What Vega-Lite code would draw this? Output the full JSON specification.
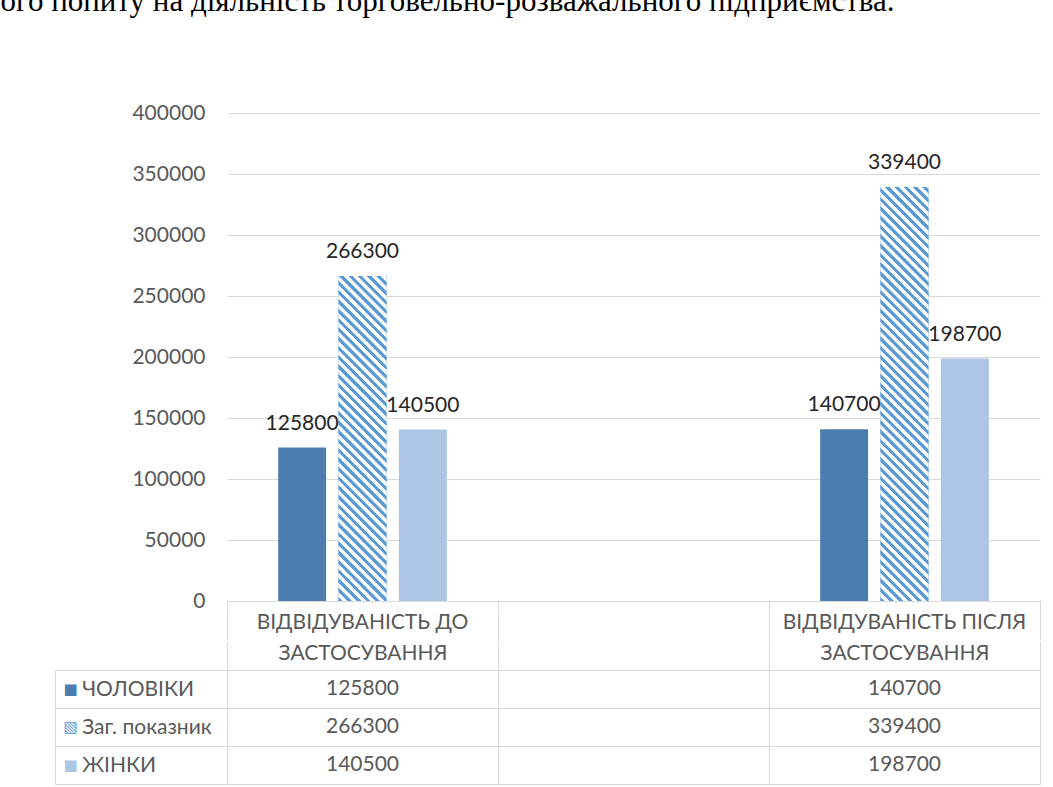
{
  "$schema": "https://vega.github.io/schema/vega-lite/v6.json",
  "background": "white",
  "padding": {"left": 0, "top": -14, "right": 0, "bottom": 0},
  "spacing": 0,
  "title": {"text": "ого попиту на діяльність торговельно-розважального підприємства.", "anchor": "start", "dx": -54, "baseline": "alphabetic", "offset": 60, "font": "Liberation Serif", "fontSize": 31, "fontWeight": "normal", "color": "#000000"},
  "data": {"values": [
    {"cat": "ВІДВІДУВАНІСТЬ ДО ЗАСТОСУВАННЯ", "series": "ЧОЛОВІКИ", "value": 125800},
    {"cat": "ВІДВІДУВАНІСТЬ ДО ЗАСТОСУВАННЯ", "series": "Заг. показник", "value": 266300},
    {"cat": "ВІДВІДУВАНІСТЬ ДО ЗАСТОСУВАННЯ", "series": "ЖІНКИ", "value": 140500},
    {"cat": "ВІДВІДУВАНІСТЬ ПІСЛЯ ЗАСТОСУВАННЯ", "series": "ЧОЛОВІКИ", "value": 140700},
    {"cat": "ВІДВІДУВАНІСТЬ ПІСЛЯ ЗАСТОСУВАННЯ", "series": "Заг. показник", "value": 339400},
    {"cat": "ВІДВІДУВАНІСТЬ ПІСЛЯ ЗАСТОСУВАННЯ", "series": "ЖІНКИ", "value": 198700}
  ]},
  "config": {
    "view": {"stroke": null},
    "font": "Lato",
    "axis": {"labelFont": "Lato", "labelFontSize": 21, "labelColor": "#595959", "gridColor": "#d9d9d9", "domainColor": "#d9d9d9", "tickColor": "#d9d9d9"}
  },
  "vconcat": [
    {
      "width": 813,
      "height": 488,
      "encoding": {
        "x": {"field": "cat", "type": "nominal",
          "scale": {"domain": ["ВІДВІДУВАНІСТЬ ДО ЗАСТОСУВАННЯ", " ", "ВІДВІДУВАНІСТЬ ПІСЛЯ ЗАСТОСУВАННЯ"], "paddingInner": 0, "paddingOuter": 0},
          "axis": {"title": null, "domain": true, "ticks": true, "tickBand": "extent", "tickSize": 10, "labels": false}},
        "xOffset": {"field": "series", "type": "nominal",
          "scale": {"domain": ["ЧОЛОВІКИ", "Заг. показник", "ЖІНКИ"], "paddingInner": 0.2066, "paddingOuter": 0.847}},
        "y": {"field": "value", "type": "quantitative",
          "scale": {"domain": [0, 400000], "nice": false},
          "axis": {"title": null, "values": [0, 50000, 100000, 150000, 200000, 250000, 300000, 350000, 400000], "format": "d", "domain": false, "ticks": true, "tickColor": "transparent", "tickSize": 172, "grid": true, "labelPadding": -150}}
      },
      "layer": [
        {
          "mark": {"type": "bar"},
          "encoding": {
            "color": {"field": "series", "type": "nominal",
              "scale": {"domain": ["ЧОЛОВІКИ", "Заг. показник", "ЖІНКИ"], "range": ["#4a7eb0", "#5b9bd5", "#adc6e6"]},
              "legend": null}
          }
        },
        {
          "transform": [{"filter": "datum.series == 'Заг. показник' && datum.cat == 'ВІДВІДУВАНІСТЬ ДО ЗАСТОСУВАННЯ'"}],
          "mark": {"type": "bar", "fill": {"gradient": "linear", "x1": 0, "y1": 1, "x2": 0.20657, "y2": -0.40081, "stops": [
      {"offset":0,"color":"#5b9bd5"},{"offset":0.0085,"color":"#5b9bd5"},{"offset":0.0095,"color":"#ffffff"},{"offset":0.019,"color":"#ffffff"},
      {"offset":0.02,"color":"#5b9bd5"},{"offset":0.0285,"color":"#5b9bd5"},{"offset":0.0295,"color":"#ffffff"},{"offset":0.039,"color":"#ffffff"},
      {"offset":0.04,"color":"#5b9bd5"},{"offset":0.0485,"color":"#5b9bd5"},{"offset":0.0495,"color":"#ffffff"},{"offset":0.059,"color":"#ffffff"},
      {"offset":0.06,"color":"#5b9bd5"},{"offset":0.0685,"color":"#5b9bd5"},{"offset":0.0695,"color":"#ffffff"},{"offset":0.079,"color":"#ffffff"},
      {"offset":0.08,"color":"#5b9bd5"},{"offset":0.0885,"color":"#5b9bd5"},{"offset":0.0895,"color":"#ffffff"},{"offset":0.099,"color":"#ffffff"},
      {"offset":0.1,"color":"#5b9bd5"},{"offset":0.1085,"color":"#5b9bd5"},{"offset":0.1095,"color":"#ffffff"},{"offset":0.119,"color":"#ffffff"},
      {"offset":0.12,"color":"#5b9bd5"},{"offset":0.1285,"color":"#5b9bd5"},{"offset":0.1295,"color":"#ffffff"},{"offset":0.139,"color":"#ffffff"},
      {"offset":0.14,"color":"#5b9bd5"},{"offset":0.1485,"color":"#5b9bd5"},{"offset":0.1495,"color":"#ffffff"},{"offset":0.159,"color":"#ffffff"},
      {"offset":0.16,"color":"#5b9bd5"},{"offset":0.1685,"color":"#5b9bd5"},{"offset":0.1695,"color":"#ffffff"},{"offset":0.179,"color":"#ffffff"},
      {"offset":0.18,"color":"#5b9bd5"},{"offset":0.1885,"color":"#5b9bd5"},{"offset":0.1895,"color":"#ffffff"},{"offset":0.199,"color":"#ffffff"},
      {"offset":0.2,"color":"#5b9bd5"},{"offset":0.2085,"color":"#5b9bd5"},{"offset":0.2095,"color":"#ffffff"},{"offset":0.219,"color":"#ffffff"},
      {"offset":0.22,"color":"#5b9bd5"},{"offset":0.2285,"color":"#5b9bd5"},{"offset":0.2295,"color":"#ffffff"},{"offset":0.239,"color":"#ffffff"},
      {"offset":0.24,"color":"#5b9bd5"},{"offset":0.2485,"color":"#5b9bd5"},{"offset":0.2495,"color":"#ffffff"},{"offset":0.259,"color":"#ffffff"},
      {"offset":0.26,"color":"#5b9bd5"},{"offset":0.2685,"color":"#5b9bd5"},{"offset":0.2695,"color":"#ffffff"},{"offset":0.279,"color":"#ffffff"},
      {"offset":0.28,"color":"#5b9bd5"},{"offset":0.2885,"color":"#5b9bd5"},{"offset":0.2895,"color":"#ffffff"},{"offset":0.299,"color":"#ffffff"},
      {"offset":0.3,"color":"#5b9bd5"},{"offset":0.3085,"color":"#5b9bd5"},{"offset":0.3095,"color":"#ffffff"},{"offset":0.319,"color":"#ffffff"},
      {"offset":0.32,"color":"#5b9bd5"},{"offset":0.3285,"color":"#5b9bd5"},{"offset":0.3295,"color":"#ffffff"},{"offset":0.339,"color":"#ffffff"},
      {"offset":0.34,"color":"#5b9bd5"},{"offset":0.3485,"color":"#5b9bd5"},{"offset":0.3495,"color":"#ffffff"},{"offset":0.359,"color":"#ffffff"},
      {"offset":0.36,"color":"#5b9bd5"},{"offset":0.3685,"color":"#5b9bd5"},{"offset":0.3695,"color":"#ffffff"},{"offset":0.379,"color":"#ffffff"},
      {"offset":0.38,"color":"#5b9bd5"},{"offset":0.3885,"color":"#5b9bd5"},{"offset":0.3895,"color":"#ffffff"},{"offset":0.399,"color":"#ffffff"},
      {"offset":0.4,"color":"#5b9bd5"},{"offset":0.4085,"color":"#5b9bd5"},{"offset":0.4095,"color":"#ffffff"},{"offset":0.419,"color":"#ffffff"},
      {"offset":0.42,"color":"#5b9bd5"},{"offset":0.4285,"color":"#5b9bd5"},{"offset":0.4295,"color":"#ffffff"},{"offset":0.439,"color":"#ffffff"},
      {"offset":0.44,"color":"#5b9bd5"},{"offset":0.4485,"color":"#5b9bd5"},{"offset":0.4495,"color":"#ffffff"},{"offset":0.459,"color":"#ffffff"},
      {"offset":0.46,"color":"#5b9bd5"},{"offset":0.4685,"color":"#5b9bd5"},{"offset":0.4695,"color":"#ffffff"},{"offset":0.479,"color":"#ffffff"},
      {"offset":0.48,"color":"#5b9bd5"},{"offset":0.4885,"color":"#5b9bd5"},{"offset":0.4895,"color":"#ffffff"},{"offset":0.499,"color":"#ffffff"},
      {"offset":0.5,"color":"#5b9bd5"},{"offset":0.5085,"color":"#5b9bd5"},{"offset":0.5095,"color":"#ffffff"},{"offset":0.519,"color":"#ffffff"},
      {"offset":0.52,"color":"#5b9bd5"},{"offset":0.5285,"color":"#5b9bd5"},{"offset":0.5295,"color":"#ffffff"},{"offset":0.539,"color":"#ffffff"},
      {"offset":0.54,"color":"#5b9bd5"},{"offset":0.5485,"color":"#5b9bd5"},{"offset":0.5495,"color":"#ffffff"},{"offset":0.559,"color":"#ffffff"},
      {"offset":0.56,"color":"#5b9bd5"},{"offset":0.5685,"color":"#5b9bd5"},{"offset":0.5695,"color":"#ffffff"},{"offset":0.579,"color":"#ffffff"},
      {"offset":0.58,"color":"#5b9bd5"},{"offset":0.5885,"color":"#5b9bd5"},{"offset":0.5895,"color":"#ffffff"},{"offset":0.599,"color":"#ffffff"},
      {"offset":0.6,"color":"#5b9bd5"},{"offset":0.6085,"color":"#5b9bd5"},{"offset":0.6095,"color":"#ffffff"},{"offset":0.619,"color":"#ffffff"},
      {"offset":0.62,"color":"#5b9bd5"},{"offset":0.6285,"color":"#5b9bd5"},{"offset":0.6295,"color":"#ffffff"},{"offset":0.639,"color":"#ffffff"},
      {"offset":0.64,"color":"#5b9bd5"},{"offset":0.6485,"color":"#5b9bd5"},{"offset":0.6495,"color":"#ffffff"},{"offset":0.659,"color":"#ffffff"},
      {"offset":0.66,"color":"#5b9bd5"},{"offset":0.6685,"color":"#5b9bd5"},{"offset":0.6695,"color":"#ffffff"},{"offset":0.679,"color":"#ffffff"},
      {"offset":0.68,"color":"#5b9bd5"},{"offset":0.6885,"color":"#5b9bd5"},{"offset":0.6895,"color":"#ffffff"},{"offset":0.699,"color":"#ffffff"},
      {"offset":0.7,"color":"#5b9bd5"},{"offset":0.7085,"color":"#5b9bd5"},{"offset":0.7095,"color":"#ffffff"},{"offset":0.719,"color":"#ffffff"},
      {"offset":0.72,"color":"#5b9bd5"},{"offset":0.7285,"color":"#5b9bd5"},{"offset":0.7295,"color":"#ffffff"},{"offset":0.739,"color":"#ffffff"},
      {"offset":0.74,"color":"#5b9bd5"},{"offset":0.7485,"color":"#5b9bd5"},{"offset":0.7495,"color":"#ffffff"},{"offset":0.759,"color":"#ffffff"},
      {"offset":0.76,"color":"#5b9bd5"},{"offset":0.7685,"color":"#5b9bd5"},{"offset":0.7695,"color":"#ffffff"},{"offset":0.779,"color":"#ffffff"},
      {"offset":0.78,"color":"#5b9bd5"},{"offset":0.7885,"color":"#5b9bd5"},{"offset":0.7895,"color":"#ffffff"},{"offset":0.799,"color":"#ffffff"},
      {"offset":0.8,"color":"#5b9bd5"},{"offset":0.8085,"color":"#5b9bd5"},{"offset":0.8095,"color":"#ffffff"},{"offset":0.819,"color":"#ffffff"},
      {"offset":0.82,"color":"#5b9bd5"},{"offset":0.8285,"color":"#5b9bd5"},{"offset":0.8295,"color":"#ffffff"},{"offset":0.839,"color":"#ffffff"}
          ]}}
        },
        {
          "transform": [{"filter": "datum.series == 'Заг. показник' && datum.cat == 'ВІДВІДУВАНІСТЬ ПІСЛЯ ЗАСТОСУВАННЯ'"}],
          "mark": {"type": "bar", "fill": {"gradient": "linear", "x1": 0, "y1": 1, "x2": 0.12822, "y2": -0.10817, "stops": [
      {"offset":0,"color":"#5b9bd5"},{"offset":0.0085,"color":"#5b9bd5"},{"offset":0.0095,"color":"#ffffff"},{"offset":0.019,"color":"#ffffff"},
      {"offset":0.02,"color":"#5b9bd5"},{"offset":0.0285,"color":"#5b9bd5"},{"offset":0.0295,"color":"#ffffff"},{"offset":0.039,"color":"#ffffff"},
      {"offset":0.04,"color":"#5b9bd5"},{"offset":0.0485,"color":"#5b9bd5"},{"offset":0.0495,"color":"#ffffff"},{"offset":0.059,"color":"#ffffff"},
      {"offset":0.06,"color":"#5b9bd5"},{"offset":0.0685,"color":"#5b9bd5"},{"offset":0.0695,"color":"#ffffff"},{"offset":0.079,"color":"#ffffff"},
      {"offset":0.08,"color":"#5b9bd5"},{"offset":0.0885,"color":"#5b9bd5"},{"offset":0.0895,"color":"#ffffff"},{"offset":0.099,"color":"#ffffff"},
      {"offset":0.1,"color":"#5b9bd5"},{"offset":0.1085,"color":"#5b9bd5"},{"offset":0.1095,"color":"#ffffff"},{"offset":0.119,"color":"#ffffff"},
      {"offset":0.12,"color":"#5b9bd5"},{"offset":0.1285,"color":"#5b9bd5"},{"offset":0.1295,"color":"#ffffff"},{"offset":0.139,"color":"#ffffff"},
      {"offset":0.14,"color":"#5b9bd5"},{"offset":0.1485,"color":"#5b9bd5"},{"offset":0.1495,"color":"#ffffff"},{"offset":0.159,"color":"#ffffff"},
      {"offset":0.16,"color":"#5b9bd5"},{"offset":0.1685,"color":"#5b9bd5"},{"offset":0.1695,"color":"#ffffff"},{"offset":0.179,"color":"#ffffff"},
      {"offset":0.18,"color":"#5b9bd5"},{"offset":0.1885,"color":"#5b9bd5"},{"offset":0.1895,"color":"#ffffff"},{"offset":0.199,"color":"#ffffff"},
      {"offset":0.2,"color":"#5b9bd5"},{"offset":0.2085,"color":"#5b9bd5"},{"offset":0.2095,"color":"#ffffff"},{"offset":0.219,"color":"#ffffff"},
      {"offset":0.22,"color":"#5b9bd5"},{"offset":0.2285,"color":"#5b9bd5"},{"offset":0.2295,"color":"#ffffff"},{"offset":0.239,"color":"#ffffff"},
      {"offset":0.24,"color":"#5b9bd5"},{"offset":0.2485,"color":"#5b9bd5"},{"offset":0.2495,"color":"#ffffff"},{"offset":0.259,"color":"#ffffff"},
      {"offset":0.26,"color":"#5b9bd5"},{"offset":0.2685,"color":"#5b9bd5"},{"offset":0.2695,"color":"#ffffff"},{"offset":0.279,"color":"#ffffff"},
      {"offset":0.28,"color":"#5b9bd5"},{"offset":0.2885,"color":"#5b9bd5"},{"offset":0.2895,"color":"#ffffff"},{"offset":0.299,"color":"#ffffff"},
      {"offset":0.3,"color":"#5b9bd5"},{"offset":0.3085,"color":"#5b9bd5"},{"offset":0.3095,"color":"#ffffff"},{"offset":0.319,"color":"#ffffff"},
      {"offset":0.32,"color":"#5b9bd5"},{"offset":0.3285,"color":"#5b9bd5"},{"offset":0.3295,"color":"#ffffff"},{"offset":0.339,"color":"#ffffff"},
      {"offset":0.34,"color":"#5b9bd5"},{"offset":0.3485,"color":"#5b9bd5"},{"offset":0.3495,"color":"#ffffff"},{"offset":0.359,"color":"#ffffff"},
      {"offset":0.36,"color":"#5b9bd5"},{"offset":0.3685,"color":"#5b9bd5"},{"offset":0.3695,"color":"#ffffff"},{"offset":0.379,"color":"#ffffff"},
      {"offset":0.38,"color":"#5b9bd5"},{"offset":0.3885,"color":"#5b9bd5"},{"offset":0.3895,"color":"#ffffff"},{"offset":0.399,"color":"#ffffff"},
      {"offset":0.4,"color":"#5b9bd5"},{"offset":0.4085,"color":"#5b9bd5"},{"offset":0.4095,"color":"#ffffff"},{"offset":0.419,"color":"#ffffff"},
      {"offset":0.42,"color":"#5b9bd5"},{"offset":0.4285,"color":"#5b9bd5"},{"offset":0.4295,"color":"#ffffff"},{"offset":0.439,"color":"#ffffff"},
      {"offset":0.44,"color":"#5b9bd5"},{"offset":0.4485,"color":"#5b9bd5"},{"offset":0.4495,"color":"#ffffff"},{"offset":0.459,"color":"#ffffff"},
      {"offset":0.46,"color":"#5b9bd5"},{"offset":0.4685,"color":"#5b9bd5"},{"offset":0.4695,"color":"#ffffff"},{"offset":0.479,"color":"#ffffff"},
      {"offset":0.48,"color":"#5b9bd5"},{"offset":0.4885,"color":"#5b9bd5"},{"offset":0.4895,"color":"#ffffff"},{"offset":0.499,"color":"#ffffff"},
      {"offset":0.5,"color":"#5b9bd5"},{"offset":0.5085,"color":"#5b9bd5"},{"offset":0.5095,"color":"#ffffff"},{"offset":0.519,"color":"#ffffff"},
      {"offset":0.52,"color":"#5b9bd5"},{"offset":0.5285,"color":"#5b9bd5"},{"offset":0.5295,"color":"#ffffff"},{"offset":0.539,"color":"#ffffff"},
      {"offset":0.54,"color":"#5b9bd5"},{"offset":0.5485,"color":"#5b9bd5"},{"offset":0.5495,"color":"#ffffff"},{"offset":0.559,"color":"#ffffff"},
      {"offset":0.56,"color":"#5b9bd5"},{"offset":0.5685,"color":"#5b9bd5"},{"offset":0.5695,"color":"#ffffff"},{"offset":0.579,"color":"#ffffff"},
      {"offset":0.58,"color":"#5b9bd5"},{"offset":0.5885,"color":"#5b9bd5"},{"offset":0.5895,"color":"#ffffff"},{"offset":0.599,"color":"#ffffff"},
      {"offset":0.6,"color":"#5b9bd5"},{"offset":0.6085,"color":"#5b9bd5"},{"offset":0.6095,"color":"#ffffff"},{"offset":0.619,"color":"#ffffff"},
      {"offset":0.62,"color":"#5b9bd5"},{"offset":0.6285,"color":"#5b9bd5"},{"offset":0.6295,"color":"#ffffff"},{"offset":0.639,"color":"#ffffff"},
      {"offset":0.64,"color":"#5b9bd5"},{"offset":0.6485,"color":"#5b9bd5"},{"offset":0.6495,"color":"#ffffff"},{"offset":0.659,"color":"#ffffff"},
      {"offset":0.66,"color":"#5b9bd5"},{"offset":0.6685,"color":"#5b9bd5"},{"offset":0.6695,"color":"#ffffff"},{"offset":0.679,"color":"#ffffff"},
      {"offset":0.68,"color":"#5b9bd5"},{"offset":0.6885,"color":"#5b9bd5"},{"offset":0.6895,"color":"#ffffff"},{"offset":0.699,"color":"#ffffff"},
      {"offset":0.7,"color":"#5b9bd5"},{"offset":0.7085,"color":"#5b9bd5"},{"offset":0.7095,"color":"#ffffff"},{"offset":0.719,"color":"#ffffff"},
      {"offset":0.72,"color":"#5b9bd5"},{"offset":0.7285,"color":"#5b9bd5"},{"offset":0.7295,"color":"#ffffff"},{"offset":0.739,"color":"#ffffff"},
      {"offset":0.74,"color":"#5b9bd5"},{"offset":0.7485,"color":"#5b9bd5"},{"offset":0.7495,"color":"#ffffff"},{"offset":0.759,"color":"#ffffff"},
      {"offset":0.76,"color":"#5b9bd5"},{"offset":0.7685,"color":"#5b9bd5"},{"offset":0.7695,"color":"#ffffff"},{"offset":0.779,"color":"#ffffff"},
      {"offset":0.78,"color":"#5b9bd5"},{"offset":0.7885,"color":"#5b9bd5"},{"offset":0.7895,"color":"#ffffff"},{"offset":0.799,"color":"#ffffff"},
      {"offset":0.8,"color":"#5b9bd5"},{"offset":0.8085,"color":"#5b9bd5"},{"offset":0.8095,"color":"#ffffff"},{"offset":0.819,"color":"#ffffff"},
      {"offset":0.82,"color":"#5b9bd5"},{"offset":0.8285,"color":"#5b9bd5"},{"offset":0.8295,"color":"#ffffff"},{"offset":0.839,"color":"#ffffff"},
      {"offset":0.84,"color":"#5b9bd5"},{"offset":0.8485,"color":"#5b9bd5"},{"offset":0.8495,"color":"#ffffff"},{"offset":0.859,"color":"#ffffff"},
      {"offset":0.86,"color":"#5b9bd5"},{"offset":0.8685,"color":"#5b9bd5"},{"offset":0.8695,"color":"#ffffff"},{"offset":0.879,"color":"#ffffff"},
      {"offset":0.88,"color":"#5b9bd5"},{"offset":0.8885,"color":"#5b9bd5"},{"offset":0.8895,"color":"#ffffff"},{"offset":0.899,"color":"#ffffff"},
      {"offset":0.9,"color":"#5b9bd5"},{"offset":0.9085,"color":"#5b9bd5"},{"offset":0.9095,"color":"#ffffff"},{"offset":0.919,"color":"#ffffff"},
      {"offset":0.92,"color":"#5b9bd5"},{"offset":0.9285,"color":"#5b9bd5"},{"offset":0.9295,"color":"#ffffff"},{"offset":0.939,"color":"#ffffff"},
      {"offset":0.94,"color":"#5b9bd5"},{"offset":0.9485,"color":"#5b9bd5"},{"offset":0.9495,"color":"#ffffff"},{"offset":0.959,"color":"#ffffff"},
      {"offset":0.96,"color":"#5b9bd5"},{"offset":0.9685,"color":"#5b9bd5"},{"offset":0.9695,"color":"#ffffff"},{"offset":0.979,"color":"#ffffff"},
      {"offset":0.98,"color":"#5b9bd5"},{"offset":0.9885,"color":"#5b9bd5"},{"offset":0.9895,"color":"#ffffff"},{"offset":0.999,"color":"#ffffff"}
          ]}}
        },
        {
          "mark": {"type": "text", "baseline": "alphabetic", "dy": -18, "fontSize": 21, "font": "Lato", "color": "#262626"},
          "encoding": {"text": {"field": "value", "type": "quantitative", "format": "d"}}
        }
      ]
    },
    {
      "width": 813,
      "height": 27.5,
      "data": {"values": [
        {"cat": "ВІДВІДУВАНІСТЬ ДО ЗАСТОСУВАННЯ", "label": "ВІДВІДУВАНІСТЬ ДО"},
        {"cat": "ВІДВІДУВАНІСТЬ ПІСЛЯ ЗАСТОСУВАННЯ", "label": "ВІДВІДУВАНІСТЬ ПІСЛЯ"}
      ]},
      "mark": {"type": "text", "fontSize": 21, "font": "Lato", "color": "#595959", "baseline": "top", "dy": -13.75},
      "encoding": {
        "x": {"field": "cat", "type": "nominal",
          "scale": {"domain": ["ВІДВІДУВАНІСТЬ ДО ЗАСТОСУВАННЯ", " ", "ВІДВІДУВАНІСТЬ ПІСЛЯ ЗАСТОСУВАННЯ"], "paddingInner": 0, "paddingOuter": 0},
          "axis": {"title": null, "grid": true, "tickBand": "extent", "domain": false, "ticks": false, "labels": false}},
        "y": {"datum": "h", "type": "nominal",
          "axis": {"title": null, "labels": false, "domain": false, "ticks": true, "tickColor": "transparent", "tickSize": 172}},
        "text": {"field": "label", "type": "nominal"}
      }
    },
    {
      "width": 813,
      "height": 114,
      "encoding": {
        "y": {"field": "series", "type": "nominal",
          "scale": {"domain": ["ЧОЛОВІКИ", "Заг. показник", "ЖІНКИ"], "paddingInner": 0, "paddingOuter": 0}}
      },
      "layer": [
        {
          "mark": {"type": "text", "fontSize": 21, "font": "Lato", "color": "#595959"},
          "encoding": {
            "x": {"field": "cat", "type": "nominal",
              "scale": {"domain": ["ВІДВІДУВАНІСТЬ ДО ЗАСТОСУВАННЯ", " ", "ВІДВІДУВАНІСТЬ ПІСЛЯ ЗАСТОСУВАННЯ"], "paddingInner": 0, "paddingOuter": 0},
              "axis": {"title": null, "orient": "top", "grid": true, "tickBand": "extent", "domain": false, "ticks": true, "tickSize": 29, "labels": true, "labelAngle": 0, "labelBaseline": "alphabetic", "labelPadding": -18, "labelLimit": 500,
                "labelExpr": "datum.value == 'ВІДВІДУВАНІСТЬ ДО ЗАСТОСУВАННЯ' || datum.value == 'ВІДВІДУВАНІСТЬ ПІСЛЯ ЗАСТОСУВАННЯ' ? 'ЗАСТОСУВАННЯ' : ''"}},
            "y": {"field": "series", "type": "nominal",
              "axis": {"title": null, "orient": "left", "grid": true, "tickBand": "extent", "domain": false, "ticks": true, "tickSize": 172, "labelAlign": "left", "labelPadding": -26.7}},
            "text": {"field": "value", "type": "quantitative", "format": "d"}
          }
        },
        {
          "mark": {"type": "text", "text": "", "opacity": 0},
          "encoding": {
            "y": {"field": "series", "type": "nominal",
              "axis": {"title": null, "orient": "left", "offset": 172, "grid": false, "domain": true, "ticks": false, "labelAlign": "center", "labelPadding": -15, "labelFont": "DejaVu Sans", "labelFontSize": 15,
                "labelExpr": "datum.value == 'Заг. показник' ? '▧' : '■'",
                "labelColor": {"condition": [{"test": "datum.value == 'ЧОЛОВІКИ'", "value": "#4a7eb0"}, {"test": "datum.value == 'ЖІНКИ'", "value": "#adc6e6"}], "value": "#5b9bd5"}}}
          }
        }
      ],
      "resolve": {"axis": {"y": "independent"}}
    }
  ]
}
